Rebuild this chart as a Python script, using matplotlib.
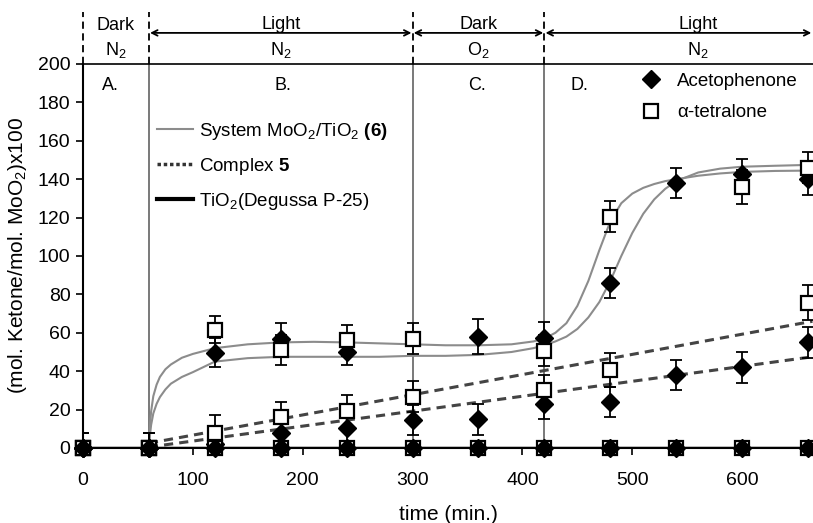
import numpy as np
import matplotlib
matplotlib.use('Agg')
import matplotlib.pyplot as plt
from matplotlib.lines import Line2D

plt.rcParams['font.family'] = ['Liberation Sans', 'DejaVu Sans']
plt.rcParams['mathtext.fontset'] = 'custom'
plt.rcParams['mathtext.rm'] = 'Liberation Sans'
plt.rcParams['mathtext.it'] = 'Liberation Sans:italic'
plt.rcParams['mathtext.bf'] = 'Liberation Sans:bold'

# sampling times (min)
times = [0, 60, 120, 180, 240, 300, 360, 420, 480, 540, 600, 660]
nan = np.nan

# System MoO2/TiO2 (6)
sys_aceto = [0, 0, 49.6, 57, 50, nan, 58, 57.4, 86, 138, 142.5, 140]
sys_aceto_err = [8, 8, 7.5, 8, 7, nan, 9, 8, 8, 8, 8, 8]
sys_tetra = [0, 0, 61.5, 51, 56, 57, nan, 50.6, 120.5, nan, 136, 146]
sys_tetra_err = [8, 8, 7, 8, 8, 8, nan, 8, 8, nan, 9, 8]

# Complex 5
cx_aceto = [0, 0, 2, 8, 10.5, 14.6, 15, 23, 24, 38, 42, 55]
cx_aceto_err = [8, 8, 7, 7, 7, 8, 8, 8, 8, 8, 8, 8]
cx_tetra = [0, 0, 8, 16, 19.5, 26.7, nan, 30, 40.7, nan, nan, 75.7]
cx_tetra_err = [8, 8, 9, 8, 8, 8, nan, 8, 9, nan, nan, 9]

# TiO2 (Degussa P-25)
tio2_aceto = [0] * 12
tio2_tetra = [0] * 12

# fitted curves for system (6)
fit_t = [60, 61, 62, 64, 67, 70, 75, 80, 90, 100, 120, 150, 180, 210, 240,
         270, 300, 330, 360, 390, 410, 420, 430, 440, 450, 460, 470, 480,
         490, 500, 510, 520, 530, 540, 560, 580, 600, 630, 664]
fit_a = [0, 12, 19, 27, 33, 37, 41, 43.5, 47, 49, 52, 54, 55, 55.3, 55,
         54.5, 54, 53.5, 53.5, 54, 55.5, 57, 60, 65, 74, 87, 103, 118,
         127.5, 132.5, 135.5, 137.5, 139, 140, 141.8, 143, 143.8, 144.3, 144.5]
fit_b = [0, 7, 12, 18, 23, 26.5, 30.5, 33.5, 37, 39.5, 45, 46.8, 47.5, 47.5, 47.5,
         47.5, 48, 48, 48.5, 50, 52, 53.5, 55.5, 58, 62, 68, 76, 87,
         100, 112, 122, 129.5, 135, 139, 143.5, 145.5, 146.5, 147, 147.5]

# linear trends for complex 5
cx_fit_t = [60, 664]
cx_fit_tetra = [2.5, 66]
cx_fit_aceto = [0.5, 47.5]

# phases
phase_edges = [0, 60, 300, 420, 664]
phase_top = ['Dark', 'Light', 'Dark', 'Light']
phase_gas = ['N$_2$', 'N$_2$', 'O$_2$', 'N$_2$']
region_x = [25, 182, 359, 452]
region_lbl = ['A.', 'B.', 'C.', 'D.']

fig = plt.figure(figsize=(8.13, 5.23), dpi=100)
ax = fig.add_axes([83 / 813, 75 / 523, 730 / 813, 384 / 523])
ax.set_xlim(0, 664.5)
ax.set_ylim(0, 200)

# phase separators inside the plot
for t in phase_edges[1:4]:
    ax.axvline(t, color='#6e6e6e', lw=1.3, zorder=1)

tr = ax.get_xaxis_transform()
for t in phase_edges[:4]:
    ax.plot([t, t], [1.0, 1.135], transform=tr, color='black', lw=1.3,
            ls=(0, (4, 2.5)), clip_on=False)
ax.text((phase_edges[0] + phase_edges[1]) / 2, 1.100, phase_top[0], transform=tr,
        ha='center', va='center', fontsize=13)
ax.text((phase_edges[0] + phase_edges[1]) / 2, 1.036, phase_gas[0], transform=tr,
        ha='center', va='center', fontsize=13)
for i in range(1, 4):
    a, b = phase_edges[i], phase_edges[i + 1]
    ax.annotate('', xy=(b - 1, 1.081), xytext=(a + 1, 1.081), xycoords=tr,
                textcoords=tr, annotation_clip=False,
                arrowprops=dict(arrowstyle='<->', color='black', lw=1.3,
                                shrinkA=0, shrinkB=0))
    shift = 18 if i == 3 else 0
    ax.text((a + b) / 2 + shift, 1.102, phase_top[i], transform=tr,
            ha='center', va='center', fontsize=13)
    ax.text((a + b) / 2 + shift, 1.036, phase_gas[i], transform=tr,
            ha='center', va='center', fontsize=13)

for x, l in zip(region_x, region_lbl):
    ax.text(x, 189, l, ha='center', va='center', fontsize=13)

# fitted curves
ax.plot(fit_t, fit_a, color='#8c8c8c', lw=1.5, zorder=2)
ax.plot(fit_t, fit_b, color='#8c8c8c', lw=1.5, zorder=2)
ax.plot(cx_fit_t, cx_fit_tetra, color='#444444', lw=2.2, ls=(0, (3, 2)), zorder=2)
ax.plot(cx_fit_t, cx_fit_aceto, color='#444444', lw=2.2, ls=(0, (3, 2)), zorder=2)
ax.axhline(0, color='black', lw=2.5, zorder=2)

def draw(y, err, marker, z):
    if err is not None:
        ax.errorbar(times, y, yerr=err, fmt='none', ecolor='black', elinewidth=1.3,
                    capsize=4.5, capthick=1.3, zorder=z)
    if marker == 'D':
        ax.plot(times, y, 'D', ms=9, mfc='black', mec='black', ls='none',
                zorder=z + 0.5, clip_on=False)
    else:
        ax.plot(times, y, 's', ms=10, mfc='white', mec='black', mew=1.6,
                ls='none', zorder=z + 0.5, clip_on=False)

draw(cx_aceto, cx_aceto_err, 'D', 3)
draw(cx_tetra, cx_tetra_err, 's', 4)
draw(sys_aceto, sys_aceto_err, 'D', 5)
draw(sys_tetra, sys_tetra_err, 's', 6)
draw(tio2_tetra, None, 's', 7)
draw(tio2_aceto, None, 'D', 8)

# legends
line_handles = [
    Line2D([], [], color='#8c8c8c', lw=1.5),
    Line2D([], [], color='#333333', lw=2.5, ls=(0, (1, 0.8))),
    Line2D([], [], color='black', lw=3),
]
line_labels = [r'System MoO$_2$/TiO$_2$ $\mathbf{(6)}$', r'Complex $\mathbf{5}$',
               r'TiO$_2$(Degussa P-25)']
leg1 = ax.legend(line_handles, line_labels, loc='upper left',
                 bbox_to_anchor=(0.101, 0.852), frameon=False, fontsize=13.5,
                 borderpad=0, borderaxespad=0, handlelength=1.95,
                 handletextpad=0.3, labelspacing=0.75)
ax.add_artist(leg1)
mark_handles = [
    Line2D([], [], marker='D', ms=9, mfc='black', mec='black', ls='none'),
    Line2D([], [], marker='s', ms=10, mfc='white', mec='black', mew=1.6, ls='none'),
]
ax.legend(mark_handles, ['Acetophenone', 'α-tetralone'], loc='upper left',
          bbox_to_anchor=(0.765, 0.977), frameon=False, fontsize=13.5,
          borderpad=0, borderaxespad=0, handlelength=1.0, handletextpad=0.9,
          labelspacing=0.75)

ax.set_xticks([0, 100, 200, 300, 400, 500, 600])
ax.set_yticks(range(0, 201, 20))
ax.tick_params(axis='both', direction='out', length=5, width=1.2, labelsize=14)
ax.tick_params(axis='x', pad=12)
ax.tick_params(axis='y', pad=4)
ax.spines['right'].set_visible(False)
ax.spines['top'].set_linewidth(1.2)
ax.spines['left'].set_linewidth(1.5)
ax.spines['bottom'].set_linewidth(1.5)

ax.set_xlabel('time (min.)', fontsize=15, labelpad=12)
ax.set_ylabel('(mol. Ketone/mol. MoO$_2$)x100', fontsize=15, labelpad=6)

fig.savefig('out.png', dpi=100)
